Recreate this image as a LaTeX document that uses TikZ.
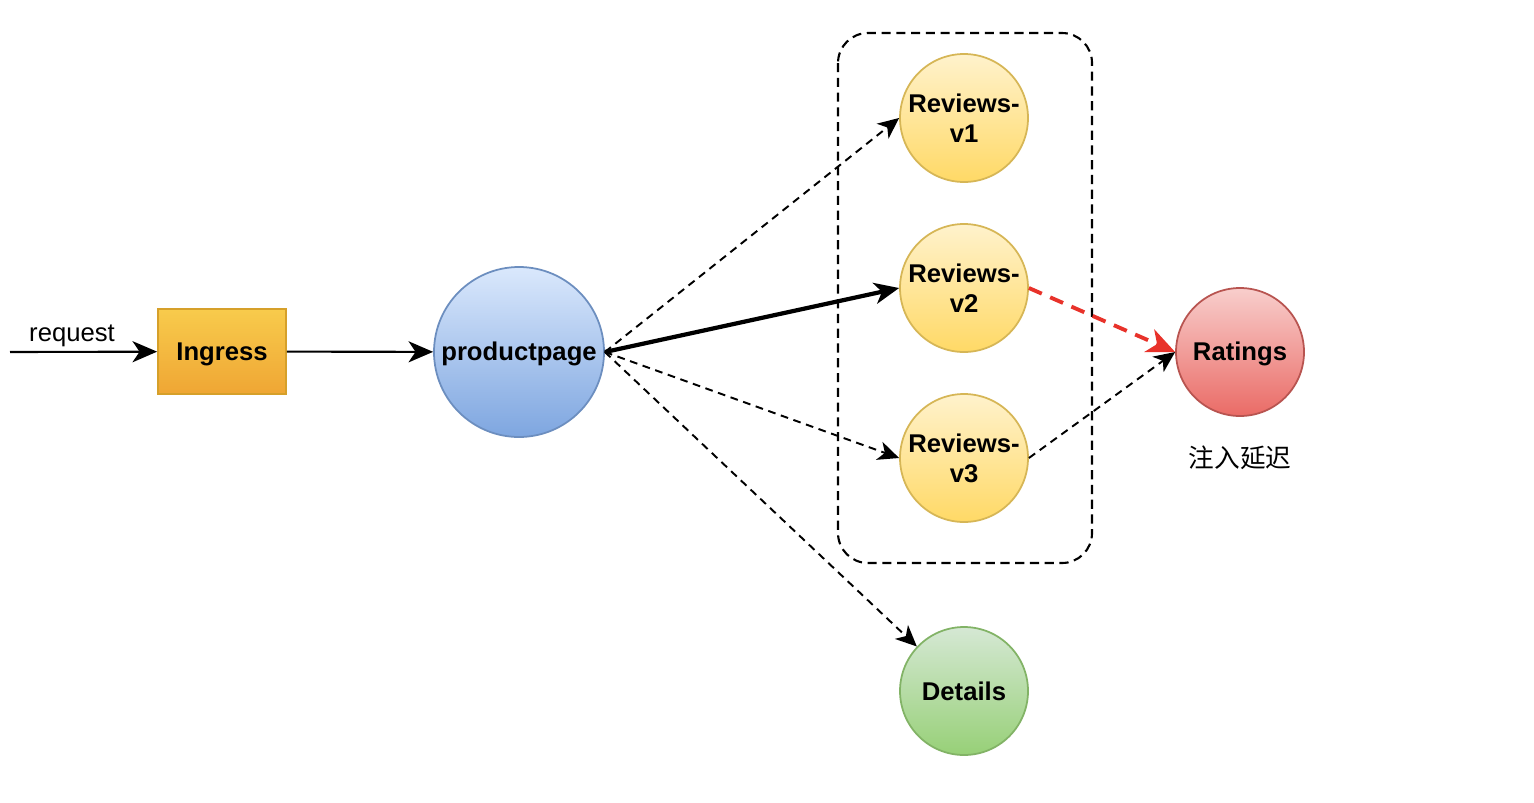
\documentclass[tikz,border=0pt]{standalone}
\usepackage{fontspec}
\setmainfont{Liberation Sans}
\newfontfamily\cjk{Noto Sans CJK SC}
\usetikzlibrary{arrows.meta}

\definecolor{ingtop}{HTML}{F8CB4C}
\definecolor{ingbot}{HTML}{EFA634}
\definecolor{ingline}{HTML}{D6A02A}
\definecolor{bluetop}{HTML}{DAE8FC}
\definecolor{bluebot}{HTML}{7EA6E0}
\definecolor{blueline}{HTML}{6C8EBF}
\definecolor{yeltop}{HTML}{FFF2CC}
\definecolor{yelbot}{HTML}{FFD966}
\definecolor{yelline}{HTML}{D6B656}
\definecolor{grntop}{HTML}{D5E8D4}
\definecolor{grnbot}{HTML}{97D077}
\definecolor{grnline}{HTML}{82B366}
\definecolor{redtop}{HTML}{F8CECC}
\definecolor{redbot}{HTML}{EA6B66}
\definecolor{redline}{HTML}{B85450}
\definecolor{delayred}{HTML}{E8322A}

\tikzset{
  lbl/.style={font=\fontsize{7.3}{8.6}\selectfont},
  svc/.style={circle, line width=0.5pt, minimum size=1.28cm, inner sep=0pt,
    align=center, font=\fontsize{7.3}{8.6}\selectfont\bfseries},
  lowtext/.style={text height=6.6pt, text depth=1.5pt},
  reviews/.style={svc, draw=yelline, top color=yeltop, bottom color=yelbot},
  call/.style={-{Stealth[length=7pt,width=6pt,inset=2pt]}, line width=0.6pt},
  maybe/.style={-{Stealth[length=6pt,width=5.4pt,inset=1.7pt]}, line width=0.55pt,
    dash pattern=on 2.2pt off 1.6pt},
}

\begin{document}
\begin{tikzpicture}
  \useasboundingbox (0,0) rectangle (15.34,-8.02);

  % versions of reviews
  \draw [line width=0.6pt, dash pattern=on 2.6pt off 1.6pt, rounded corners=0.3cm]
    (8.38,-0.33) rectangle (10.92,-5.63);

  \coordinate (start) at (0.10,-3.52);
  \node [lbl] (req) at (0.72,-3.36) {request};
  \node [rectangle, draw=ingline, line width=0.5pt, top color=ingtop, bottom color=ingbot,
    minimum width=1.28cm, minimum height=0.85cm, inner sep=0pt, lowtext,
    font=\fontsize{7.3}{8.6}\selectfont\bfseries] (ingress) at (2.22,-3.515) {Ingress};
  \node [svc, lowtext, draw=blueline, top color=bluetop, bottom color=bluebot,
    minimum size=1.70cm] (product) at (5.19,-3.52) {productpage};

  \node [reviews] (v1) at (9.64,-1.18) {Reviews-\\v1};
  \node [reviews] (v2) at (9.64,-2.88) {Reviews-\\v2};
  \node [reviews] (v3) at (9.64,-4.58) {Reviews-\\v3};
  \node [svc, draw=grnline, top color=grntop, bottom color=grnbot] (details) at (9.64,-6.91) {Details};
  \node [svc, lowtext, draw=redline, top color=redtop, bottom color=redbot] (ratings) at (12.40,-3.52) {Ratings};
  \node [lbl, font=\fontsize{7.3}{8.6}\selectfont\cjk] (delay) at (12.40,-4.58) {注入延迟};

  \draw [call] (start) -- (ingress);
  \draw [call] (ingress) -- (product);
  \draw [maybe] (product.east) -- (v1.west);
  \draw [call, line width=1.2pt] (product.east) -- (v2.west);
  \draw [maybe] (product.east) -- (v3.west);
  \draw [maybe] (product.east) -- (details);
  \draw [-{Stealth[length=8pt,width=7pt,inset=2.4pt]}, delayred, line width=1.1pt,
    dash pattern=on 4pt off 2.6pt] (v2.east) -- (ratings.west);
  \draw [maybe] (v3.east) -- (ratings.west);
\end{tikzpicture}
\end{document}
